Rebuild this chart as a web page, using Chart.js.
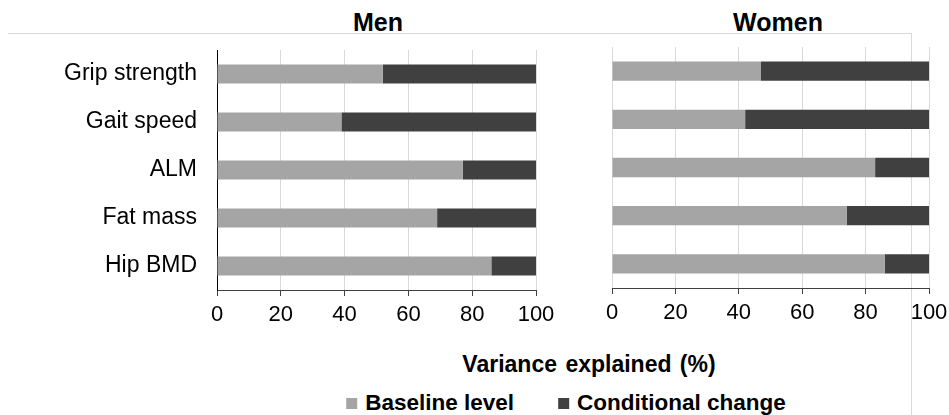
<!DOCTYPE html>
<html>
<head>
<meta charset="utf-8">
<script src="https://cdn.jsdelivr.net/npm/chart.js@4"></script>
<style>
body { margin: 0; width: 949px; height: 415px; background: #fff; position: relative; overflow: hidden;
       font-family: "Liberation Sans", Arial, sans-serif; color: #000; }
.box { position: absolute; }
.title { position: absolute; top: 8px; font-weight: bold; font-size: 25px; transform: translateX(-50%); white-space: nowrap; }
#frameTop { position: absolute; left: 8px; top: 33px; width: 903px; border-top: 1px solid #d9d9d9; }
#frameRight { position: absolute; left: 911px; top: 33px; height: 382px; border-left: 1px solid #d9d9d9; }
#axisTitle { position: absolute; left: 589px; top: 351px; transform: translateX(-50%); font-weight: bold; font-size: 23px; word-spacing: 2px; white-space: nowrap; }
#legend { position: absolute; left: 566px; top: 390px; transform: translateX(-50%); font-weight: bold; font-size: 22.5px; white-space: nowrap; display: flex; align-items: center; }
#legend span.sw { display: inline-block; width: 11px; height: 11px; margin-right: 8px; }
#legend span.item { display: inline-flex; align-items: center; margin-right: 44px; }
#legend span.item:last-child { margin-right: 0; }
</style>
</head>
<body>
<div id="frameTop"></div>
<div id="frameRight"></div>
<div class="title" style="left:378px">Men</div>
<div class="title" style="left:778px">Women</div>
<div class="box" style="left:0;top:40px;width:560px;height:300px"><canvas id="men"></canvas></div>
<div class="box" style="left:590px;top:40px;width:359px;height:300px"><canvas id="women"></canvas></div>
<div id="axisTitle">Variance explained (%)</div>
<div id="legend"></div>
<script>
// data
const categories = ['Grip strength', 'Gait speed', 'ALM', 'Fat mass', 'Hip BMD'];
const menBaseline = [52, 39, 77, 69, 86];
const menChange = [48, 61, 23, 31, 14];
const womenBaseline = [47, 42, 83, 74, 86];
const womenChange = [53, 58, 17, 26, 14];
const xTicks = [0, 20, 40, 60, 80, 100];
const seriesNames = ['Baseline level', 'Conditional change'];
const seriesColors = ['#a5a5a5', '#404040'];

const FONT = '"Liberation Sans", Arial, sans-serif';

function makeChart(id, baseline, change, showLabels, padding, yWidth, xHeight) {
    const ctx = document.getElementById(id).getContext('2d');
    return new Chart(ctx, {
        type: 'bar',
        data: {
            labels: categories,
            datasets: [
                { label: seriesNames[0], data: baseline, backgroundColor: seriesColors[0] },
                { label: seriesNames[1], data: change, backgroundColor: seriesColors[1] }
            ]
        },
        options: {
            indexAxis: 'y',
            responsive: true,
            maintainAspectRatio: false,
            animation: false,
            datasets: { bar: { categoryPercentage: 0.8, barPercentage: 0.5 } },
            layout: { padding: padding },
            plugins: { legend: { display: false }, tooltip: { enabled: false } },
            scales: {
                x: {
                    stacked: true,
                    min: 0,
                    max: 100,
                    afterBuildTicks: function (scale) {
                        scale.ticks = xTicks.map(v => ({ value: v }));
                    },
                    afterFit: function (scale) {
                        scale.height = xHeight;
                        scale.paddingLeft = 0;
                        scale.paddingRight = 0;
                    },
                    grid: { color: '#d9d9d9', tickColor: '#404040', tickLength: 6, lineWidth: 1 },
                    border: { display: true, color: '#404040', width: 1 },
                    ticks: { color: '#000', font: { family: FONT, size: 22 }, padding: 6, maxRotation: 0 }
                },
                y: {
                    stacked: true,
                    display: showLabels,
                    afterFit: function (scale) {
                        if (yWidth) scale.width = yWidth;
                        scale.paddingTop = 0;
                        scale.paddingBottom = 0;
                    },
                    grid: { display: false, drawTicks: false },
                    border: { display: true, color: '#000', width: 1 },
                    ticks: { color: '#000', font: { family: FONT, size: 23 }, padding: 20 }
                }
            }
        }
    });
}

makeChart('men', menBaseline, menChange, true, { top: 10, right: 24, left: 0, bottom: 0 }, 217, 50);
makeChart('women', womenBaseline, womenChange, false, { top: 7, right: 20, left: 22, bottom: 0 }, 0, 52);

// shared legend below both panels
const legend = document.getElementById('legend');
seriesNames.forEach(function (name, i) {
    const item = document.createElement('span');
    item.className = 'item';
    item.innerHTML = '<span class="sw" style="background:' + seriesColors[i] + '"></span>' + name;
    legend.appendChild(item);
});
</script>
</body>
</html>
